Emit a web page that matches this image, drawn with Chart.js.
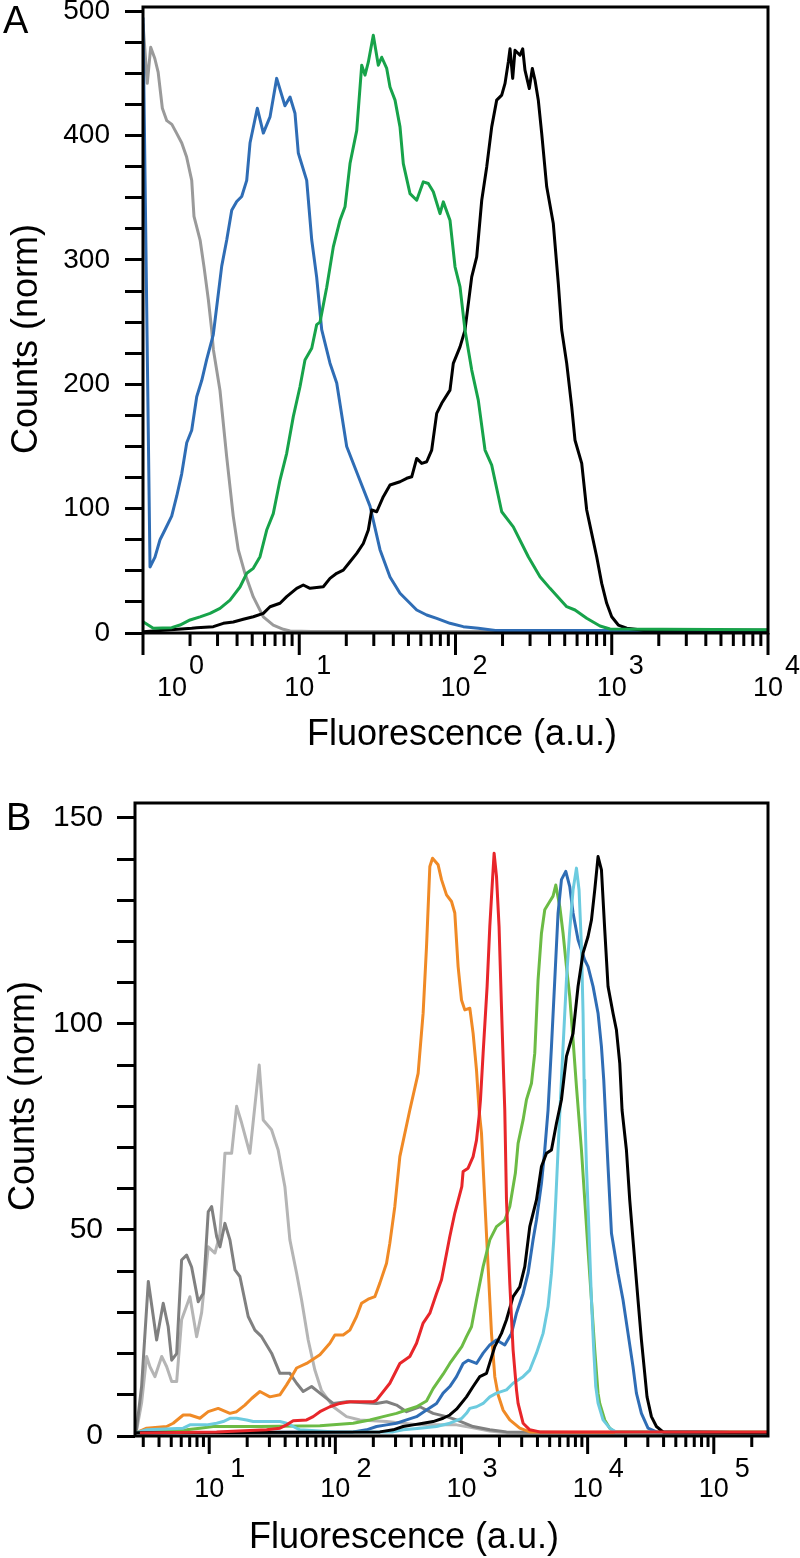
<!DOCTYPE html>
<html>
<head>
<meta charset="utf-8">
<title>Fluorescence histograms</title>
<script src="https://cdn.jsdelivr.net/npm/chart.js@4.4.1/dist/chart.umd.min.js"></script>
<style>
    html, body { margin: 0; padding: 0; background: #fff; }
    .panel { width: 800px; height: 779px; }
    canvas { display: block; }
</style>
</head>
<body>
<div class="panel"><canvas id="panelA" width="800" height="779"></canvas></div>
<div class="panel"><canvas id="panelB" width="800" height="779"></canvas></div>
<script>
// ---- Panel A: x range, ticks, labels ----
const xRangeA = [1, 10000];
const yMaxA = 503.4;
const xTicksA = [1, 10, 100, 1000, 10000];
const xExpA = ['0', '1', '2', '3', '4'];
const yLabelsA = [0, 100, 200, 300, 400, 500];

// Panel A series (fluorescence, counts)
const grayAX = [1.0, 1.065, 1.12, 1.19, 1.25, 1.33, 1.42, 1.53, 1.64, 1.77, 1.90, 2.05, 2.12, 2.32, 2.46, 2.62, 2.75, 2.82, 3.11, 3.43, 3.78, 4.07, 4.49, 5.08, 5.89, 6.82, 7.91, 8.73, 12, 10000];
const grayAY = [490, 442, 471, 462, 451, 422, 412, 409, 402, 394, 383, 364, 335, 316, 294, 268, 244, 228, 195, 142, 94, 67, 48, 29, 13, 6.4, 3, 1.6, 1.2, 1.2];

const blueAX = [1.0, 1.109, 1.193, 1.285, 1.383, 1.526, 1.643, 1.769, 1.905, 2.05, 2.207, 2.376, 2.557, 2.818, 3.19, 3.434, 3.697, 3.979, 4.283, 4.611, 4.84, 5.39, 5.89, 6.50, 7.17, 8.10, 8.73, 9.39, 9.86, 11.16, 12.02, 12.93, 13.92, 15.73, 17.37, 20.12, 23.88, 28.37, 32.87, 38.09, 44.14, 56.46, 65.41, 75.81, 92.2, 112.2, 140, 180, 10000];
const blueAY = [495, 53, 61, 75, 83, 94, 110, 128, 153, 163, 190, 203, 220, 240, 295, 316, 340, 347, 351, 364, 394, 422, 402, 415, 446, 424, 431, 418, 386, 364, 316, 286, 244, 217, 201, 150, 126, 102, 67, 45, 32, 18.5, 14.5, 11.8, 7.8, 5.1, 3.8, 2, 2];

const greenAX = [1.0, 1.164, 1.526, 1.725, 2.0, 2.317, 2.685, 3.111, 3.605, 4.177, 4.611, 5.08, 5.61, 6.19, 6.82, 7.53, 8.31, 9.16, 10.11, 10.88, 12.02, 12.93, 13.58, 14.99, 16.52, 18.24, 19.63, 21.13, 23.32, 25.11, 26.35, 27.67, 29.78, 32.06, 33.71, 36.29, 38.09, 41.02, 44.14, 46.34, 51.15, 56.46, 62.23, 66.97, 72.11, 79.59, 83.55, 92.2, 99.3, 106.9, 115.0, 127.0, 139.9, 154.5, 170.5, 197.6, 234.4, 292.4, 347.4, 402.6, 514.9, 582, 691.3, 841, 974.6, 10000];
const greenAY = [9, 3.8, 4.3, 6.4, 10.5, 13, 15.8, 19.8, 26.5, 37, 48, 52, 61.4, 82.8, 96, 123, 144.5, 174, 198, 219.5, 229, 248, 250, 278, 310.5, 332, 342.7, 377.5, 404, 456.6, 448.6, 459, 480.7, 456.6, 463, 454, 439, 428.5, 407, 377.5, 353.3, 348, 362.8, 361.5, 354.8, 337.2, 346.7, 332, 294.5, 278.4, 243.6, 211.4, 187.3, 147.1, 135, 97.5, 85.4, 61.3, 45.3, 35.9, 21.2, 18.5, 11.8, 5.6, 3.2, 2.6];

const blackAX = [1.0, 2.05, 2.207, 2.818, 3.266, 3.783, 4.384, 5.08, 5.89, 6.50, 7.53, 8.31, 9.63, 10.61, 11.72, 14.25, 15.73, 17.37, 19.14, 21.13, 23.32, 25.70, 27.67, 29.09, 31.32, 34.51, 38.09, 44.14, 48.72, 52.46, 56.46, 60.78, 65.41, 70.42, 75.81, 81.60, 92.2, 96.8, 106.9, 115.0, 127.0, 136.7, 147.2, 158.4, 170.5, 183.5, 197.6, 207.5, 217.8, 223.4, 232.3, 240.3, 258.7, 269.2, 278.4, 296.8, 310.2, 322.8, 338.8, 356.2, 383.5, 422.6, 455, 478.3, 514.9, 554.2, 582, 642.4, 691.3, 744, 801, 862.5, 928.4, 999.3, 1101.6, 1246.6, 1600, 10000];
const blackAY = [1, 3.8, 4.3, 5.1, 7.8, 8.8, 11, 13.1, 15.8, 21.1, 23.9, 29.2, 35.9, 38.6, 35.9, 37.2, 43.9, 48, 50.6, 57.3, 64, 72, 82.8, 98.9, 97.5, 109.6, 119, 121.6, 124.4, 125.6, 140.4, 136.4, 137.7, 147.1, 176.6, 184.7, 195.3, 216.8, 230.1, 243.6, 286.4, 302.5, 348, 374.8, 407, 428.5, 432.5, 442, 459.2, 469.8, 446, 468.6, 464.6, 469.8, 452.6, 437.8, 454, 444.5, 428.5, 401.7, 358.8, 329.3, 281, 243.6, 216.8, 182, 155, 136.4, 98.9, 80.1, 61.3, 39.9, 23.9, 13.1, 6.4, 3.8, 2.2, 2.2];

// ---- Panel B: x range, ticks, labels ----
const xRangeB = [2.58, 269000];
const yMaxB = 153.6;
const xTicksB = [10, 100, 1000, 10000, 100000];
const xExpB = ['1', '2', '3', '4', '5'];
const yLabelsB = [0, 50, 100, 150];

// Panel B series
const lightGrayBX = [2.63, 2.91, 3.19, 3.39, 3.71, 4.20, 4.60, 5.04, 5.52, 6.04, 7.03, 7.95, 8.71, 9.82, 11.1, 12.16, 13.32, 15.05, 16.49, 18.06, 21.0, 24.9, 26.8, 31.2, 35.2, 39.8, 43.6, 49.3, 54.0, 60.9, 68.8, 77.7, 96.1, 122.7, 156.4, 254.5, 467.3, 912.9, 1236, 1676, 2273, 269000];
const lightGrayBY = [0.7, 8, 19.3, 16.8, 14.4, 19.3, 16.8, 13.2, 13.2, 28.2, 33.8, 24.1, 30, 45.9, 44.4, 49, 68.6, 68.6, 80, 76, 68.6, 90, 76.7, 74.3, 69.4, 60.5, 47.6, 39.5, 33, 23.3, 16, 11, 7.1, 4.7, 3.9, 3.5, 2.7, 2.7, 2, 1.2, 0.8, 0.5];

const darkGrayBX = [2.63, 2.91, 3.29, 3.83, 4.32, 4.73, 5.04, 5.52, 6.04, 6.62, 7.25, 8.18, 8.96, 9.82, 10.45, 11.45, 12.16, 13.32, 14.59, 15.98, 17.51, 20.37, 23.02, 26.02, 31.22, 36.33, 43.6, 49.3, 55.6, 64.8, 75.4, 96.1, 122.7, 156.4, 212.1, 254.5, 305.4, 366.6, 467.3, 595.7, 760.5, 912.9, 1236, 1676, 2273, 269000];
const darkGrayBY = [0.7, 12, 37.5, 23.3, 32.2, 26.5, 18.4, 20, 42.7, 43.9, 41, 32.6, 34.6, 54.4, 55.7, 48.4, 45.9, 51.6, 47.6, 40.3, 38.7, 29, 25.7, 24.1, 20.1, 15.2, 15.2, 12.8, 10.8, 12, 10.4, 7.9, 8.3, 8.1, 7.9, 8.3, 7.5, 5.9, 7.1, 5.5, 4.7, 3.9, 2.3, 1.5, 1.0, 0.5];

const orangeBX = [2.74, 3.19, 4.60, 5.18, 6.22, 7.03, 8.44, 9.82, 11.78, 14.59, 16.49, 19.18, 21.68, 25.22, 30.27, 36.33, 41.06, 44.97, 49.28, 59.14, 75.41, 90.46, 99.1, 115.3, 130.3, 147.2, 161.3, 181.9, 205.6, 225.3, 254.5, 270.3, 296.1, 324.5, 389.3, 453.1, 496.3, 528.1, 561, 589.2, 652.6, 694.2, 760.5, 833.3, 885, 940, 1000, 1062, 1164, 1236, 1315, 1378, 1440, 1529, 1625, 1729, 1836, 1950, 2136, 2414, 2897, 3477, 269000];
const orangeBY = [1, 1.9, 2.3, 3.1, 5.1, 5.1, 4.3, 5.9, 6.7, 5.5, 5.9, 7.5, 9.1, 10.8, 9.5, 10, 12.4, 14.4, 16.5, 17.6, 19.7, 22.5, 24.5, 24.5, 25.7, 29, 32.2, 33.2, 33.8, 37.1, 41.9, 46.8, 55.7, 67.8, 79.1, 88, 102.6, 118.8, 138.2, 140.2, 138.6, 135, 131.3, 129.7, 126.9, 113.9, 105.8, 103.4, 103.8, 97.7, 88.8, 79.1, 73.5, 57.3, 41.1, 24.9, 14.4, 10, 6.3, 3.9, 1.9, 1.0, 0.8];

const redBX = [2.82, 11.45, 28.5, 36.33, 41.06, 46.3, 59.14, 66.7, 75.41, 90.46, 108.6, 130.3, 156.4, 199.3, 212.1, 270.3, 324.5, 389.3, 440.1, 496.3, 561, 633.8, 694.2, 807.7, 885, 1005.6, 1029.7, 1128, 1236, 1315, 1378, 1414, 1484, 1596, 1676, 1761, 1813, 1894, 1985, 2074, 2163, 2203, 2273, 2414, 2564, 2728, 2809, 3078, 3477, 4174, 269000];
const redBY = [0.7, 1, 1.5, 1.9, 2.7, 3.7, 3.9, 4.7, 5.9, 7.1, 7.9, 8.3, 8.3, 8.3, 8.7, 12.8, 17.6, 19.3, 22.5, 27.4, 29.8, 34.6, 37.9, 48.4, 54.1, 60.5, 64.2, 65, 67.8, 71.8, 77.5, 81.6, 92.9, 109.1, 123.6, 135, 141.4, 135.8, 123.6, 104.2, 86.4, 79.1, 57.3, 37.1, 20.9, 11.2, 7.9, 3.1, 1.5, 1.0, 1.0];

const greenBX = [2.82, 6.62, 8.44, 10.76, 25.22, 75.41, 138.4, 187.7, 239.2, 305.4, 366.6, 440.1, 528.1, 595.7, 714.9, 807.7, 1005.6, 1095, 1200, 1315, 1484, 1676, 1894, 2203, 2414, 2674, 2809, 3078, 3273, 3587, 3809, 4046, 4304, 4571, 5007, 5317, 5590, 6010, 6385, 6792, 7214, 7662, 8152, 8931, 9484, 10074, 10718, 11385, 12091, 12472, 13664, 14968, 16397, 269000];
const greenBY = [1, 1.5, 1.9, 2.3, 2.3, 2.5, 3.1, 3.9, 4.7, 5.5, 6.3, 7.1, 8.5, 11.5, 15, 17.6, 21.7, 24.1, 26.5, 33, 41.1, 47.6, 50.8, 52.4, 55.7, 63.8, 71, 76.7, 81.6, 85.6, 92.9, 110.7, 122, 127.7, 129.7, 131, 133.7, 128.5, 122, 113.9, 106.6, 96.1, 84.8, 69.4, 57.3, 45.1, 33, 20.9, 10.4, 7.9, 3.9, 1.9, 1.0, 1.0];

const blueBX = [2.63, 138.4, 176.7, 212.1, 254.5, 305.4, 366.6, 440.1, 528.1, 633.8, 714.9, 807.7, 912.9, 1029.7, 1128, 1315, 1484, 1676, 1894, 2203, 2490, 2728, 3078, 3371, 3693, 3929, 4304, 4571, 4854, 5166, 5489, 5827, 6199, 6707, 7214, 7662, 8393, 9484, 10074, 11036, 12091, 12863, 13415, 13664, 14507, 15447, 17412, 19081, 20899, 22889, 24356, 26682, 30105, 35104, 269000];
const blueBY = [0.8, 1, 1.5, 2.3, 2.7, 3.1, 3.9, 4.7, 6.3, 7.9, 10.4, 12, 14.4, 17.6, 18.4, 17.6, 20.1, 22.1, 23.3, 22.1, 24.9, 29.8, 34.6, 39.5, 47.6, 52.4, 61.3, 69.4, 79.1, 94.5, 110.7, 126.9, 135, 137, 133.3, 126.9, 120.4, 115.5, 113.9, 109.1, 102.6, 94.5, 86.4, 81.6, 65.4, 49.2, 39.5, 33, 24.9, 16.8, 10.4, 5.5, 1.9, 1.0, 0.8];

const cyanBX = [2.63, 3.19, 6.22, 7.03, 9.54, 11.45, 12.91, 14.59, 16.49, 19.79, 22.32, 36.33, 41.06, 46.3, 52.3, 100, 287.1, 344.5, 467.3, 633.8, 807.7, 1005.6, 1095, 1164, 1315, 1484, 1676, 1894, 2273, 2564, 3078, 3477, 3929, 4434, 4854, 5166, 5387, 5590, 5827, 6088, 6385, 6792, 7214, 7662, 8152, 8549, 8931, 9196, 9366, 9484, 9783, 10259, 10718, 11176, 11594, 12091, 13243, 14968, 16700, 269000];
const cyanBY = [0.8, 1.5, 1.9, 2.7, 2.7, 3.1, 3.5, 4.3, 4.3, 3.9, 3.5, 3.5, 3.1, 2.3, 1.5, 1.0, 1.0, 1.5, 1.9, 2.3, 3.1, 4.3, 5.5, 6.7, 7.1, 7.9, 9.5, 10.4, 11.2, 12.8, 14.4, 16, 20.1, 24.9, 31.4, 39.5, 47.6, 57.3, 69.4, 81.6, 94.5, 110.7, 122.8, 132.5, 137.8, 132.5, 118.8, 102.6, 86.4, 80, 65.4, 49.2, 33, 20.9, 12, 8, 3.9, 1.9, 1.0, 0.8];

const blackBX = [2.63, 225.3, 287.1, 344.5, 413.6, 496.3, 595.7, 714.9, 807.7, 912.9, 1095, 1236, 1396, 1578, 1836, 2074, 2273, 2564, 2897, 3174, 3477, 3929, 4304, 4716, 5166, 5660, 6199, 6792, 7662, 8393, 9196, 10074, 10718, 11385, 12091, 12863, 13664, 14507, 15894, 16913, 17966, 18736, 20295, 21555, 22889, 25083, 26682, 28343, 29562, 32025, 35104, 39588, 269000];
const blackBY = [0.8, 1, 1.5, 2.3, 2.7, 3.1, 3.5, 4.3, 5.1, 6.5, 9.5, 12, 14.4, 15.2, 21.7, 24.9, 28.2, 33.8, 36.2, 41.1, 50.8, 57.3, 65.4, 68.6, 69.4, 75.9, 81.6, 92.1, 97.7, 109.1, 117.2, 121.2, 125.2, 132.5, 140.6, 137.4, 122.8, 109.1, 102.6, 98.5, 90.5, 79.1, 69.4, 57.3, 47.6, 33, 23.3, 15.2, 9.5, 4.7, 2.3, 1.0, 0.8];

const FONT = '"Liberation Sans", Arial, sans-serif';

document.addEventListener('DOMContentLoaded', function() {
    initializeCharts();
});

function initializeCharts() {
    initializePanelA();
    initializePanelB();
}

// Draws the box, the log-axis ticks with 10^n labels, axis titles and panel letter
const frameAndAxis = {
    id: 'frameAndAxis',
    afterDraw(chart, args, opts) {
        const ctx = chart.ctx;
        const area = chart.chartArea;
        const x = chart.scales.x;
        const majors = opts.majors;
        ctx.save();
        ctx.strokeStyle = '#000';
        ctx.lineWidth = 3;

        ctx.beginPath();
        const decades = [majors[0] / 10].concat(majors);
        decades.forEach(d => {
            for (let m = 2; m <= 9; m++) {
                const v = d * m;
                if (v <= x.min || v >= x.max) continue;
                const px = x.getPixelForValue(v);
                ctx.moveTo(px, area.bottom);
                ctx.lineTo(px, area.bottom + opts.minorLength);
            }
        });
        majors.forEach(v => {
            const px = x.getPixelForValue(v);
            ctx.moveTo(px, area.bottom);
            ctx.lineTo(px, area.bottom + opts.majorLength);
        });
        ctx.stroke();

        ctx.strokeRect(area.left, area.top, area.right - area.left, area.bottom - area.top);

        // 10^n tick labels
        ctx.fillStyle = '#000';
        ctx.font = '27px ' + FONT;
        ctx.textAlign = 'left';
        ctx.textBaseline = 'alphabetic';
        const baseWidth = ctx.measureText('10').width;
        majors.forEach((v, i) => {
            let left = x.getPixelForValue(v) - baseWidth / 2;
            left = Math.max(left, area.left + opts.labelInset);
            ctx.fillText('10', left, area.bottom + opts.baseDrop);
            ctx.fillText(opts.exponents[i], left + baseWidth + opts.expGap, area.bottom + opts.expDrop);
        });

        // axis titles
        ctx.font = '36px ' + FONT;
        ctx.textAlign = 'center';
        ctx.fillText(opts.xTitle, opts.xTitleX, opts.xTitleY);
        ctx.save();
        ctx.translate(opts.yTitleX, opts.yTitleY);
        ctx.rotate(-Math.PI / 2);
        ctx.fillText(opts.yTitle, 0, 0);
        ctx.restore();

        // panel letter
        ctx.font = '38px ' + FONT;
        ctx.textAlign = 'left';
        ctx.fillText(opts.letter, opts.letterX, opts.letterY);
        ctx.restore();
    }
};

function series(xs, ys, color) {
    return {
        data: xs.map((x, i) => ({ x: x, y: ys[i] })),
        borderColor: color,
        borderWidth: 3,
        borderJoinStyle: 'round',
        pointRadius: 0,
        tension: 0,
        fill: false
    };
}

function buildOptions(cfg) {
    return {
        responsive: false,
        animation: false,
        devicePixelRatio: 1,
        events: [],
        layout: { autoPadding: false, padding: { left: 0, right: 32, top: cfg.top, bottom: 0 } },
        scales: {
            x: {
                type: 'logarithmic',
                min: cfg.xRange[0],
                max: cfg.xRange[1],
                ticks: { display: false },
                grid: { display: false },
                border: { display: false },
                afterFit: axis => {
                    axis.height = cfg.xHeight;
                    axis.paddingLeft = 0;
                    axis.paddingRight = 0;
                }
            },
            y: {
                min: 0,
                max: cfg.yMax,
                afterBuildTicks: axis => {
                    const ticks = [];
                    for (let v = 0; v <= cfg.yMax; v += cfg.yStep) ticks.push({ value: v });
                    axis.ticks = ticks;
                },
                afterFit: axis => {
                    axis.width = cfg.yWidth;
                    axis.paddingTop = 0;
                    axis.paddingBottom = 0;
                },
                grid: { drawOnChartArea: false, drawTicks: true, tickLength: 18, tickWidth: 3, tickColor: '#000' },
                border: { display: false },
                ticks: {
                    autoSkip: false,
                    padding: cfg.yPad,
                    color: '#000',
                    font: { family: FONT, size: cfg.yFont },
                    callback: value => cfg.yLabels.includes(value) ? String(value) : ''
                }
            }
        },
        plugins: {
            legend: { display: false },
            tooltip: { enabled: false },
            frameAndAxis: cfg.decor
        }
    };
}

// Panel A histograms
function initializePanelA() {
    const ctx = document.getElementById('panelA');
    if (!ctx) return;

    new Chart(ctx, {
        type: 'line',
        data: {
            datasets: [
                series(greenAX, greenAY, '#17a34a'),
                series(blackAX, blackAY, '#000000'),
                series(blueAX, blueAY, '#2f6db5'),
                series(grayAX, grayAY, '#9a9a9a')
            ]
        },
        options: buildOptions({
            top: 7, xRange: xRangeA, xHeight: 146, yMax: yMaxA, yStep: 25,
            yWidth: 143, yPad: 15, yFont: 28, yLabels: yLabelsA,
            decor: {
                majors: xTicksA, exponents: xExpA,
                minorLength: 13, majorLength: 22,
                labelInset: 14, baseDrop: 63, expDrop: 41, expGap: 2,
                xTitle: 'Fluorescence (a.u.)', xTitleX: 462, xTitleY: 745,
                yTitle: 'Counts (norm)', yTitleX: 37, yTitleY: 339,
                letter: 'A', letterX: 3, letterY: 33
            }
        }),
        plugins: [frameAndAxis]
    });
}

// Panel B histograms
function initializePanelB() {
    const ctx = document.getElementById('panelB');
    if (!ctx) return;

    new Chart(ctx, {
        type: 'line',
        data: {
            datasets: [
                series(redBX, redBY, '#e8262a'),
                series(blackBX, blackBY, '#000000'),
                series(cyanBX, cyanBY, '#6ccbdf'),
                series(blueBX, blueBY, '#2f6db5'),
                series(greenBX, greenBY, '#6cbb45'),
                series(orangeBX, orangeBY, '#f08a26'),
                series(darkGrayBX, darkGrayBY, '#808080'),
                series(lightGrayBX, lightGrayBY, '#b5b5b5')
            ]
        },
        options: buildOptions({
            top: 24, xRange: xRangeB, xHeight: 122, yMax: yMaxB, yStep: 10,
            yWidth: 135, yPad: 14, yFont: 30, yLabels: yLabelsB,
            decor: {
                majors: xTicksB, exponents: xExpB,
                minorLength: 11, majorLength: 18,
                labelInset: 14, baseDrop: 61, expDrop: 41, expGap: 6,
                xTitle: 'Fluorescence (a.u.)', xTitleX: 404, xTitleY: 769,
                yTitle: 'Counts (norm)', yTitleX: 34, yTitleY: 317,
                letter: 'B', letterX: 6, letterY: 51
            }
        }),
        plugins: [frameAndAxis]
    });
}
</script>
</body>
</html>
